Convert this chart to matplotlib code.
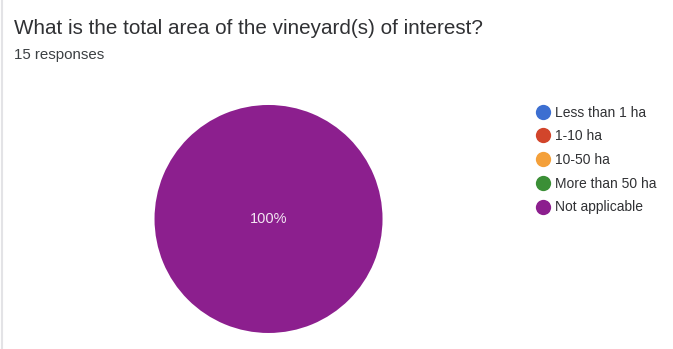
import matplotlib
matplotlib.use("Agg")
import matplotlib.pyplot as plt
from matplotlib.lines import Line2D

plt.rcParams['font.family'] = ['Liberation Sans', 'DejaVu Sans']

title = "What is the total area of the vineyard(s) of interest?"
subtitle = "15 responses"

categories = ["Less than 1 ha", "1-10 ha", "10-50 ha", "More than 50 ha", "Not applicable"]
counts = [0, 0, 0, 0, 15]
colors = ["#3d6fd1", "#d2452b", "#f4a03a", "#3b8f36", "#8c1f8e"]

fig = plt.figure(figsize=(6.73, 3.49), dpi=100)

# title block, top left
fig.text(14 / 673, 1 - 29 / 349, title, fontsize=14.9, color="#303134", va="center", ha="left")
fig.text(14 / 673, 1 - 55 / 349, subtitle, fontsize=10.8, color="#3c4043", va="center", ha="left")

# thin grey rule at the left edge
fig.add_artist(Line2D([1.5 / 673, 1.5 / 673], [0.0, 1.0], color="#e3e3e6", lw=1.5))

ax = fig.add_axes([0.2296, 0.0459, 0.3388, 0.6533])


def pct_label(p):
    return f"{p:.0f}%" if p > 0 else ""


wedges, texts, autotexts = ax.pie(
    counts, colors=colors, autopct=pct_label, pctdistance=0,
    wedgeprops=dict(linewidth=0), textprops=dict(color="#f3e6f3", fontsize=10.5),
)
ax.set_xlim(-1, 1)
ax.set_ylim(-1, 1)
ax.set_aspect("equal")

handles = [Line2D([], [], marker="o", linestyle="none", markersize=11,
                  markerfacecolor=c, markeredgewidth=0) for c in colors]
fig.legend(handles, categories, loc="upper left", bbox_to_anchor=(529 / 673, 1 - 100 / 349),
           frameon=False, fontsize=10, labelspacing=0.7, handletextpad=0.3,
           handlelength=1.2, borderaxespad=0, labelcolor="#303134")

fig.savefig("out.png", dpi=100, facecolor="white")
